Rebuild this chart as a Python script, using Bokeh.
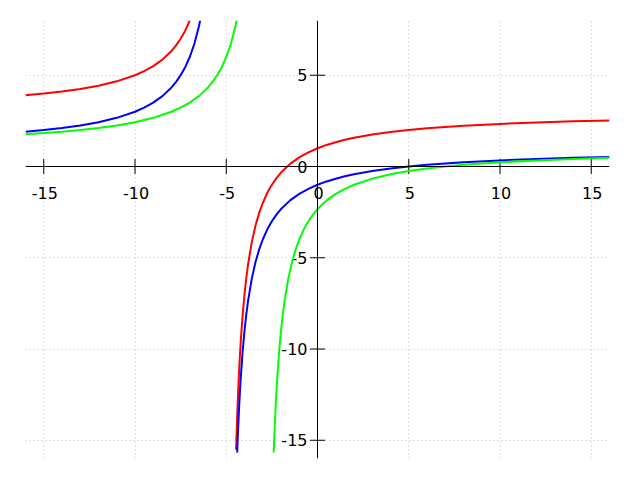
import math
from bokeh.plotting import figure
from bokeh.models import Span, Grid, FixedTicker
from bokeh.core.properties import value
from bokeh.embed import file_html
from bokeh.resources import INLINE

# ---- data ----
red_left_x = [-16, -15, -14, -13, -12, -11, -10, -9.5, -9, -8.5, -8, -7.75, -7.5, -7.25, -7.0]
red_left_y = [3.909, 4.0, 4.111, 4.25, 4.429, 4.667, 5.0, 5.222, 5.5, 5.857, 6.333, 6.636, 7.0, 7.444, 8.0]
red_right_x = [-4.46, -4.45, -4.43, -4.4, -4.35, -4.3, -4.25, -4.2, -4.1, -4.0, -3.9, -3.8, -3.6, -3.4, -3.2, -3.0,
               -2.75, -2.5, -2.25, -2.0, -1.5, -1.0, -0.5, 0, 0.5, 1, 1.5, 2, 3, 4, 5, 6, 7, 8, 10, 12, 14, 16]
red_right_y = [-15.52, -15.18, -14.54, -13.667, -12.385, -11.286, -10.333, -9.5, -8.111, -7.0, -6.091, -5.333,
               -4.143, -3.25, -2.556, -2.0, -1.444, -1.0, -0.636, -0.333, 0.143, 0.5, 0.778, 1.0, 1.182, 1.333,
               1.462, 1.571, 1.75, 1.889, 2.0, 2.091, 2.167, 2.231, 2.333, 2.412, 2.474, 2.524]

blue_left_x = [-16, -15, -14, -13, -12, -11, -10, -9.5, -9, -8.5, -8, -7.75, -7.5, -7.25, -7, -6.75, -6.5, -6.43]
blue_left_y = [1.909, 2.0, 2.111, 2.25, 2.429, 2.667, 3.0, 3.222, 3.5, 3.857, 4.333, 4.636, 5.0, 5.444, 6.0, 6.714,
               7.667, 7.993]
blue_right_x = [-4.4, -4.375, -4.35, -4.3, -4.25, -4.2, -4.1, -4.0, -3.9, -3.8, -3.6, -3.4, -3.2, -3.0, -2.75, -2.5,
                -2.25, -2.0, -1.5, -1.0, -0.5, 0, 0.5, 1, 1.5, 2, 3, 4, 5, 6, 7, 8, 10, 12, 14, 16]
blue_right_y = [-15.667, -15.0, -14.385, -13.286, -12.333, -11.5, -10.111, -9.0, -8.091, -7.333, -6.143, -5.25,
                -4.556, -4.0, -3.444, -3.0, -2.636, -2.333, -1.857, -1.5, -1.222, -1.0, -0.818, -0.667, -0.538,
                -0.429, -0.25, -0.111, 0.0, 0.091, 0.167, 0.231, 0.333, 0.412, 0.474, 0.524]

green_left_x = [-16, -15, -14, -13, -12, -11, -10, -9, -8, -7.5, -7, -6.5, -6, -5.75, -5.5, -5.25, -5, -4.75, -4.5, -4.43]
green_left_y = [1.769, 1.833, 1.909, 2.0, 2.111, 2.25, 2.429, 2.667, 3.0, 3.222, 3.5, 3.857, 4.333, 4.636, 5.0,
                5.444, 6.0, 6.714, 7.667, 7.993]
green_right_x = [-2.4, -2.375, -2.35, -2.3, -2.25, -2.2, -2.1, -2.0, -1.9, -1.8, -1.6, -1.4, -1.2, -1.0, -0.75,
                 -0.5, -0.25, 0, 0.5, 1, 1.5, 2, 3, 4, 5, 6, 7, 8, 9, 10, 12, 14, 16]
green_right_y = [-15.667, -15.0, -14.385, -13.286, -12.333, -11.5, -10.111, -9.0, -8.091, -7.333, -6.143, -5.25,
                 -4.556, -4.0, -3.444, -3.0, -2.636, -2.333, -1.857, -1.5, -1.222, -1.0, -0.667, -0.429, -0.25,
                 -0.111, 0.0, 0.091, 0.167, 0.231, 0.333, 0.412, 0.474]

x_ticks = [-15, -10, -5, 0, 5, 10, 15]
x_tick_labels = ["-15", "-10", "-5", "0", "5", "10", "15"]
y_ticks = [-15, -10, -5, 0, 5]
y_tick_labels = ["-15", "-10", "-5", "0", "5"]

FONT = value("DejaVu Sans")

p = figure(frame_width=584, frame_height=438, x_range=(-16, 16), y_range=(-16, 8),
           x_axis_type=None, y_axis_type=None, output_backend="svg", toolbar_location=None,
           min_border_left=25, min_border_right=15, min_border_top=20, min_border_bottom=6)
p.outline_line_color = None
p.background_fill_color = "white"

grid_x = [t for t in x_ticks if t != 0]
grid_y = [t for t in y_ticks if t != 0]
for dim, ticks in ((0, grid_x), (1, grid_y)):
    g = Grid(dimension=dim, ticker=FixedTicker(ticks=ticks),
             grid_line_color="#c0c0c0", grid_line_dash="1 3", grid_line_width=1)
    p.add_layout(g)

p.add_layout(Span(location=0, dimension="width", line_color="black", line_width=1))
p.add_layout(Span(location=0, dimension="height", line_color="black", line_width=1))

# tick marks crossing the axes
p.scatter(x=grid_x, y=[0] * len(grid_x), marker="dash", angle=math.pi / 2, size=15,
          line_color="black", line_width=1)
p.scatter(x=[0] * len(grid_y), y=grid_y, marker="dash", size=15, line_color="black", line_width=1)

# tick labels
p.text(x=x_ticks, y=[0] * len(x_ticks), text=x_tick_labels, text_font=FONT, text_font_size="16px",
       text_align="center", text_baseline="middle", x_offset=1, y_offset=26, text_color="black")
p.text(x=[0] * len(y_ticks), y=y_ticks, text=y_tick_labels, text_font=FONT, text_font_size="16px",
       text_align="right", text_baseline="middle", x_offset=-10, y_offset=0, text_color="black")

for xs, ys, col in ((red_left_x, red_left_y, "#ff0000"), (red_right_x, red_right_y, "#ff0000"),
                    (blue_left_x, blue_left_y, "#0000ff"), (blue_right_x, blue_right_y, "#0000ff"),
                    (green_left_x, green_left_y, "#00ff00"), (green_right_x, green_right_y, "#00ff00")):
    p.line(xs, ys, line_color=col, line_width=2)

open("out.html", "w").write(file_html(p, INLINE))
